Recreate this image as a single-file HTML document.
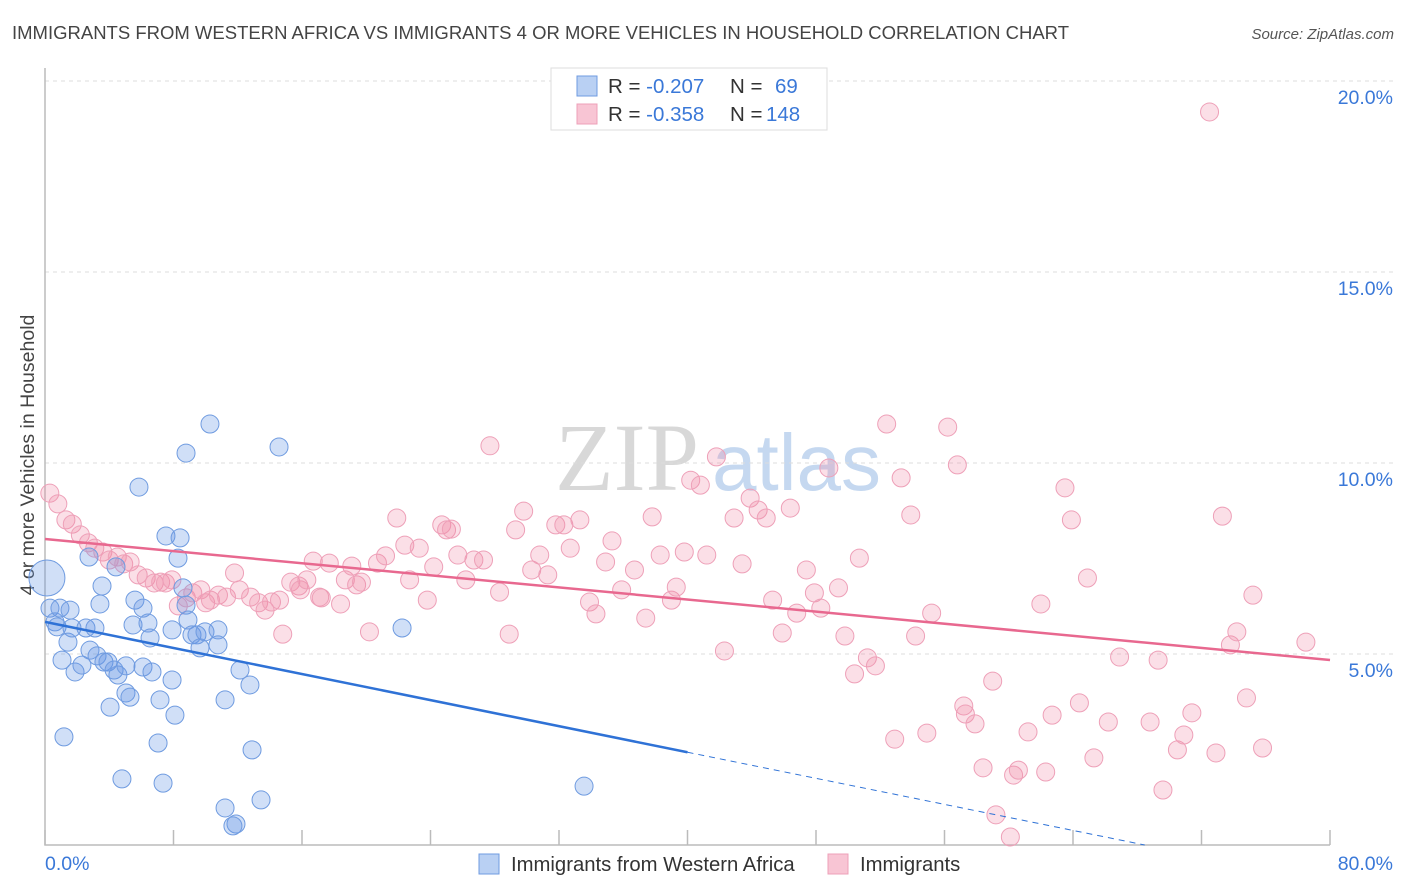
<!DOCTYPE html>
<html><head><meta charset="utf-8"><style>
body{margin:0;background:#fff;font-family:"Liberation Sans",sans-serif;}
</style></head><body>
<svg id="chart" width="1406" height="892" xmlns="http://www.w3.org/2000/svg" style="display:block">
<text x="12" y="39" font-size="18.5" fill="#444">IMMIGRANTS FROM WESTERN AFRICA VS IMMIGRANTS 4 OR MORE VEHICLES IN HOUSEHOLD CORRELATION CHART</text>
<text x="1394" y="39" font-size="15" fill="#555" font-style="italic" text-anchor="end">Source: ZipAtlas.com</text>
<text transform="translate(34,455) rotate(-90)" font-size="19.5" fill="#444" text-anchor="middle">4 or more Vehicles in Household</text>
<g font-size="96">
<text x="555" y="490" fill="#d8d8d8" font-family="Liberation Serif,serif">ZIP</text>
<text x="712" y="490" fill="#c5d8f0" font-size="80">atlas</text></g>
<g id="grid"></g><g id="axes"></g><g id="pts"></g><g id="trend"></g>
<g>
<rect x="551" y="68" width="276" height="62" fill="#fff" stroke="#ddd"/>
<rect x="577" y="76" width="20" height="20" fill="#b9d0f3" stroke="#6f9be0"/>
<rect x="577" y="104" width="20" height="20" fill="#f8c5d4" stroke="#eea0b8"/>
<text x="608" y="93" font-size="20.5" fill="#333">R = <tspan fill="#3a78d8">-0.207</tspan><tspan x="730">N = </tspan><tspan x="775" fill="#3a78d8">69</tspan></text>
<text x="608" y="121" font-size="20.5" fill="#333">R = <tspan fill="#3a78d8">-0.358</tspan><tspan x="730">N = </tspan><tspan x="766" fill="#3a78d8">148</tspan></text>
</g>
<g>
<rect x="479" y="854" width="20" height="20" fill="#b9d0f3" stroke="#6f9be0"/>
<text x="511" y="871" font-size="20.3" fill="#333">Immigrants from Western Africa</text>
<rect x="828" y="854" width="20" height="20" fill="#f8c5d4" stroke="#eea0b8"/>
<text x="860" y="871" font-size="20.3" fill="#333">Immigrants</text>
</g>
</svg>
<script>
const blueX=[0.12,0.31,0.62,0.93,1.56,0.75,1.43,1.06,1.87,2.30,1.68,2.55,2.80,3.11,3.24,3.67,3.42,3.55,2.74,4.42,3.92,4.05,4.30,4.54,5.04,5.04,5.29,5.48,5.60,6.10,6.41,6.54,6.10,6.66,7.16,7.04,7.35,7.91,7.91,8.09,7.53,8.41,8.28,8.59,8.78,8.90,9.15,9.46,9.65,9.96,10.77,10.77,11.21,12.14,12.76,12.89,10.27,8.78,14.57,5.85,4.79,1.18,11.21,11.89,11.70,13.45,22.23,33.56];
const blueY=[6.99,6.20,5.84,6.20,6.15,5.71,5.31,4.84,4.53,4.71,5.68,5.68,5.10,5.68,4.95,4.79,6.31,6.78,7.54,7.28,4.79,3.61,4.58,4.45,4.69,3.98,3.87,5.76,6.41,6.20,5.81,5.42,4.66,4.53,3.80,2.67,1.62,5.63,4.32,3.40,8.09,8.04,7.51,6.73,6.28,5.89,5.50,5.50,5.16,5.58,5.63,5.24,3.80,4.58,4.19,2.49,11.02,10.26,10.42,9.37,1.73,2.83,0.97,0.55,0.50,1.18,5.68,1.54];
const pinkX=[0.3,0.8,1.3,1.7,2.2,2.7,3.1,3.6,4.0,4.5,4.9,5.3,5.8,6.3,6.8,7.2,7.5,7.9,8.3,8.8,9.2,9.7,10.0,10.3,10.8,11.3,11.8,12.1,12.8,13.3,13.7,14.1,14.6,14.8,15.3,15.8,15.9,16.3,16.7,17.1,17.2,17.7,18.4,18.7,19.1,19.4,19.7,20.2,20.7,21.2,21.9,22.4,22.7,23.3,23.8,24.2,24.7,25.0,25.3,25.7,26.2,26.7,27.3,27.7,28.3,28.9,29.3,29.8,30.3,30.8,31.3,31.8,32.3,32.7,33.3,33.9,34.3,34.9,35.3,35.9,36.7,37.4,37.8,38.3,39.0,39.3,39.8,40.2,40.8,41.2,41.8,42.3,42.9,43.4,43.9,44.4,44.9,45.3,45.9,46.4,46.8,47.4,47.9,48.3,48.8,49.4,49.8,50.7,51.2,51.7,50.4,52.4,52.9,53.3,53.9,54.2,54.9,55.2,56.2,56.8,57.2,57.3,57.9,58.4,59.0,59.2,60.1,60.3,60.6,61.2,62.0,62.3,62.7,63.5,63.9,64.4,64.9,65.3,66.2,66.9,68.8,69.3,69.6,70.5,70.9,71.4,72.5,72.9,73.3,73.8,74.2,74.8,75.2,75.8,78.5];
const pinkY=[9.21,8.93,8.51,8.40,8.12,7.91,7.77,7.67,7.46,7.54,7.36,7.41,7.07,6.99,6.86,6.88,6.86,6.94,6.26,6.47,6.60,6.68,6.34,6.41,6.54,6.49,7.12,6.68,6.49,6.34,6.15,6.36,6.41,5.52,6.88,6.78,6.68,6.94,7.43,6.49,6.47,7.38,6.31,6.94,7.30,6.81,6.88,5.58,7.38,7.57,8.56,7.85,6.94,7.77,6.41,7.28,8.38,8.25,8.27,7.59,6.94,7.46,7.46,10.45,6.62,5.52,8.25,8.74,7.20,7.59,7.07,8.38,8.38,7.77,8.51,6.36,6.05,7.41,7.96,6.68,7.20,5.94,8.59,7.59,6.41,6.75,7.67,9.55,9.42,7.59,10.16,5.08,8.56,7.36,9.08,8.77,8.56,6.41,5.55,8.82,6.07,7.20,6.60,6.20,9.87,6.73,5.47,7.51,4.90,4.69,4.48,11.02,2.77,9.61,8.64,5.47,2.93,6.07,10.94,9.95,3.64,3.43,3.17,2.02,4.29,0.79,0.21,1.83,1.96,2.96,6.31,1.91,3.40,9.35,8.51,3.72,6.99,2.28,3.22,4.92,3.22,4.84,1.44,2.49,2.88,3.46,19.19,2.41,8.61,5.24,5.58,3.85,6.54,2.54,5.31];
const blueTrend=[5.84,-0.0853]; // intercept, slope
const pinkTrend=[8.01,-0.0396];
const yTicks=[5,10,15,20];
const xTicks=[0,8,16,24,32,40,48,56,64,72,80];
const NS="http://www.w3.org/2000/svg";
const X=v=>45+v/80*1285, Y=v=>845-v*38.2;
function mk(t,a,p){const e=document.createElementNS(NS,t);for(const k in a)e.setAttribute(k,a[k]);p.appendChild(e);return e;}
const grid=document.getElementById('grid'),axes=document.getElementById('axes');
yTicks.forEach(t=>{
 const l=mk('line',{x1:45,x2:1393,y1:Y(t),y2:Y(t),stroke:'#ddd','stroke-dasharray':'4,4'},grid);
 
 
 const tx=mk('text',{x:1393,y:Y(t)+23,'font-size':19.5,fill:'#3a78d8','text-anchor':'end'},axes);
 tx.textContent=t.toFixed(1)+'%';
 
 
});
const ax=mk('path',{d:'M45 68V845H1330',fill:'none',stroke:'#bbb','stroke-width':1.5},axes);


xTicks.forEach(t=>{
 const l=mk('line',{x1:X(t),x2:X(t),y1:830,y2:845,stroke:'#bbb','stroke-width':1.5},axes);
 
 
});
[[0,45,'start'],[80,1393,'end']].forEach(([v,x,a])=>{
 const tx=mk('text',{x:x,y:870,'font-size':19.5,fill:'#3a78d8','text-anchor':a},axes);
 tx.textContent=v.toFixed(1)+'%';
 
 
});
const pts=document.getElementById('pts');
pinkX.forEach((x,i)=>{
 const c=mk('circle',{cx:X(x),cy:Y(pinkY[i]),r:9,fill:'rgba(240,140,170,0.28)',stroke:'#eea0b8','stroke-width':1},pts);
 
 
});
blueX.forEach((x,i)=>{
 const c=mk('circle',{cx:X(x),cy:Y(blueY[i]),r:i==0?18:9,fill:'rgba(100,150,230,0.3)',stroke:'#6f9be0','stroke-width':1},pts);
 
 
});
const tr=document.getElementById('trend');
const pl=mk('line',{x1:X(0),y1:Y(pinkTrend[0]),x2:X(80),y2:Y(pinkTrend[0]+pinkTrend[1]*80),stroke:'#e8688f','stroke-width':2.5},tr);


const xEnd=40, xZero=-blueTrend[0]/blueTrend[1];
const bl=mk('line',{x1:X(0),y1:Y(blueTrend[0]),x2:X(xEnd),y2:Y(blueTrend[0]+blueTrend[1]*xEnd),stroke:'#2f72d6','stroke-width':2.5},tr);


const bd=mk('line',{x1:X(xEnd),y1:Y(blueTrend[0]+blueTrend[1]*xEnd),x2:X(xZero),y2:Y(0),stroke:'#2f72d6','stroke-width':1,'stroke-dasharray':'6,5'},tr);


</script>
</body></html>
